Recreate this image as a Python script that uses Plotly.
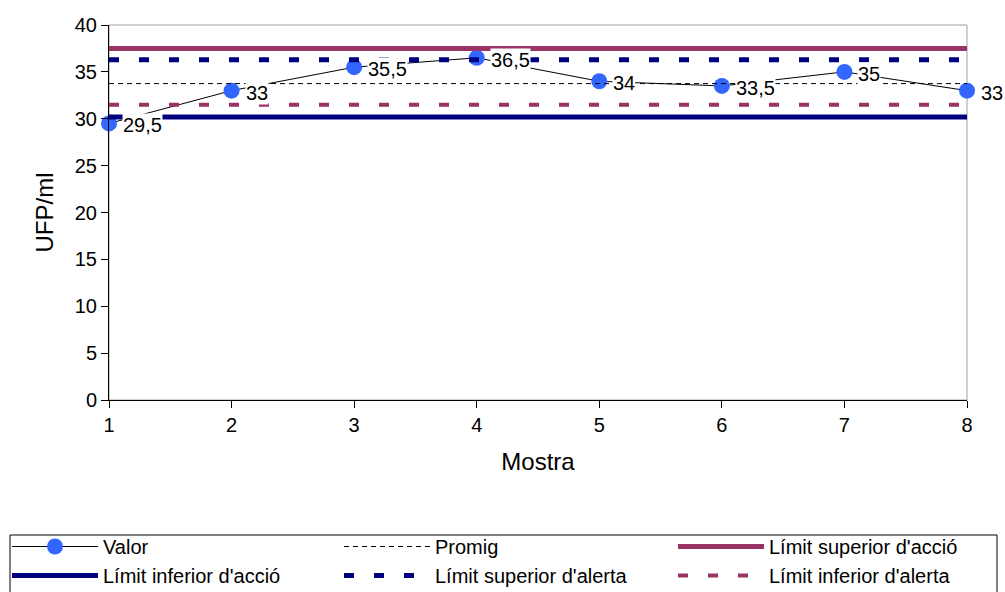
import plotly.graph_objects as go

# Data
mostra = [1, 2, 3, 4, 5, 6, 7, 8]
valor = [29.5, 33, 35.5, 36.5, 34, 33.5, 35, 33]
promig = 33.75
lim_sup_accio = 37.5
lim_inf_accio = 30.2
lim_sup_alerta = 36.3
lim_inf_alerta = 31.5

FONT = "Liberation Sans, Arial, sans-serif"
FS = 20
MAROON = "#993366"
NAVY = "#000080"
BLUE = "#3366FF"

xs = [mostra[0], mostra[-1]]

fig = go.Figure()

fig.add_trace(go.Scatter(
    x=mostra, y=valor, name="Valor", mode="lines+markers",
    line=dict(color="black", width=1),
    marker=dict(color=BLUE, size=16, symbol="circle"),
    cliponaxis=False, legend="legend",
))
fig.add_trace(go.Scatter(
    x=xs, y=[promig, promig], name="Promig", mode="lines",
    line=dict(color="black", width=1, dash="5px,4px"), legend="legend2",
))
fig.add_trace(go.Scatter(
    x=xs, y=[lim_sup_accio, lim_sup_accio], name="Límit superior d'acció", mode="lines",
    line=dict(color=MAROON, width=5), legend="legend3",
))
fig.add_trace(go.Scatter(
    x=xs, y=[lim_inf_accio, lim_inf_accio], name="Límit inferior d'acció", mode="lines",
    line=dict(color=NAVY, width=5), legend="legend",
))
fig.add_trace(go.Scatter(
    x=xs, y=[lim_sup_alerta, lim_sup_alerta], name="Límit superior d'alerta", mode="lines",
    line=dict(color=NAVY, width=5, dash="10px,20px"), legend="legend2",
))
fig.add_trace(go.Scatter(
    x=xs, y=[lim_inf_alerta, lim_inf_alerta], name="Límit inferior d'alerta", mode="lines",
    line=dict(color=MAROON, width=4, dash="10px,20px"), legend="legend3",
))

# Data labels with white background
for xv, yv in zip(mostra, valor):
    fig.add_annotation(
        x=xv, y=yv, xref="x", yref="y",
        text=f"{yv:g}".replace(".", ","),
        showarrow=False, xanchor="left", yanchor="middle",
        xshift=13, yshift=-2, bgcolor="white", borderpad=0,
        font=dict(family=FONT, size=FS, color="black"),
    )

# Plot border (gray top/right)
fig.add_shape(type="rect", xref="paper", yref="paper", x0=0, y0=0, x1=1, y1=1,
              line=dict(color="#A0A0A0", width=1), layer="below")

# Legend frame
W, H = 1005, 592
L, R, T, B = 109, 38, 25, 192
pw, ph = W - L - R, H - T - B
def px_to_paper_x(p):
    return (p - L) / pw
def px_to_paper_y(p):
    return (H - B - p) / ph
fig.add_shape(type="rect", xref="paper", yref="paper",
              x0=px_to_paper_x(10), x1=px_to_paper_x(997),
              y0=px_to_paper_y(535), y1=px_to_paper_y(600),
              line=dict(color="black", width=1), fillcolor="rgba(0,0,0,0)", layer="above")

leg_common = dict(
    orientation="v", xref="paper", yref="container", xanchor="left",
    y=1 - 527 / H, yanchor="top", bgcolor="rgba(0,0,0,0)", borderwidth=0,
    font=dict(family=FONT, size=FS, color="black"), tracegroupgap=0, itemwidth=86,
    traceorder="normal",
)

fig.update_layout(
    width=W, height=H,
    margin=dict(l=L, r=R, t=T, b=B, autoexpand=False),
    paper_bgcolor="white", plot_bgcolor="white",
    separators=", ",
    font=dict(family=FONT, size=FS, color="black"),
    showlegend=True,
    legend=dict(x=px_to_paper_x(7), **leg_common),
    legend2=dict(x=px_to_paper_x(339), **leg_common),
    legend3=dict(x=px_to_paper_x(673), **leg_common),
    xaxis=dict(
        range=[1, 8], tickvals=mostra, ticks="outside", ticklen=7, tickcolor="black",
        showline=True, linecolor="black", linewidth=1, showgrid=False, zeroline=False,
        title=dict(text="Mostra", standoff=18),
    ),
    yaxis=dict(
        range=[0, 40], dtick=5, ticks="outside", ticklen=7, tickcolor="black",
        showline=True, linecolor="black", linewidth=1, showgrid=False, zeroline=False,
        title=dict(text="UFP/ml", standoff=14),
    ),
)

fig.write_html("out.html")
